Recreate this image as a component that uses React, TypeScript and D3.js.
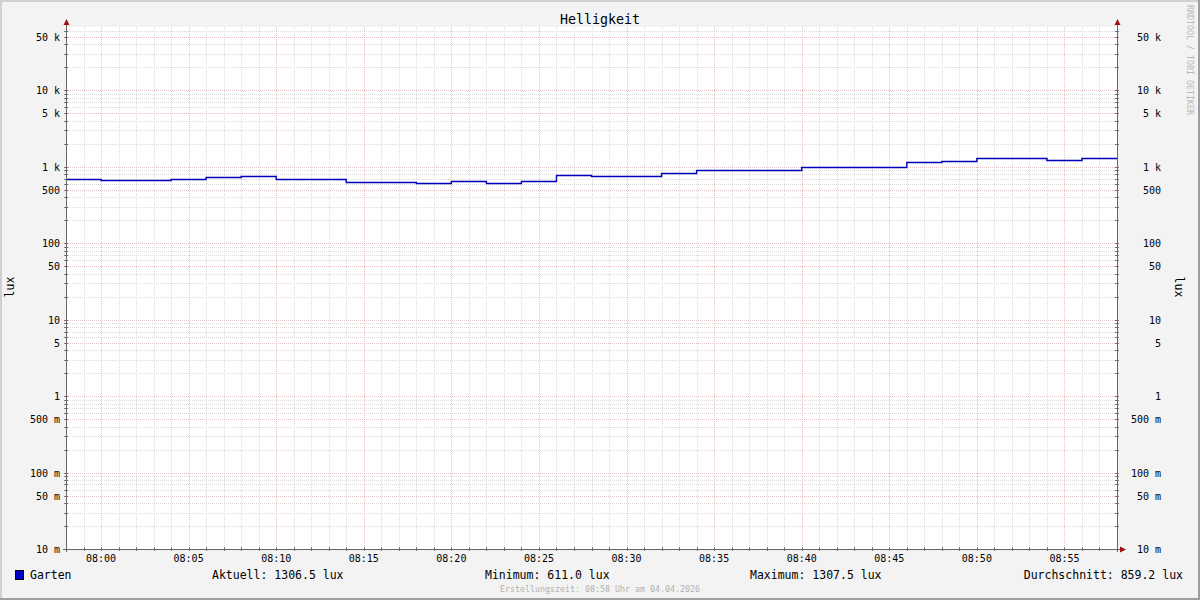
import React from "react";
import * as d3 from "d3";

const title = "Helligkeit";
const unitLabel = "lux";
const seriesName = "Garten";
const segmentStarts = [
  "07:58", "08:00", "08:02", "08:04", "08:06", "08:08", "08:10", "08:12", "08:14", "08:16",
  "08:18", "08:20", "08:22", "08:24", "08:26", "08:28", "08:30", "08:32", "08:34", "08:36",
  "08:38", "08:40", "08:42", "08:44", "08:46", "08:48", "08:50", "08:52", "08:54", "08:56",
];
const luxValues = [
  690, 670, 670, 690, 733, 756, 690, 690, 631, 631,
  611, 650, 612, 650, 786, 762, 762, 827, 905, 905,
  905, 990, 990, 990, 1152, 1209, 1307.5, 1307.5, 1224, 1306.5,
];
const endTime = "08:58";
const xTickLabels = ["08:00", "08:05", "08:10", "08:15", "08:20", "08:25", "08:30", "08:35", "08:40", "08:45", "08:50", "08:55"];
const yTickValues = [50000, 10000, 5000, 1000, 500, 100, 50, 10, 5, 1, 0.5, 0.1, 0.05, 0.01];
const yTickLabels = ["50 k", "10 k", "5 k", "1 k", "500", "100", "50", "10", "5", "1", "500 m", "100 m", "50 m", "10 m"];
const legendItems = [
  { text: "Aktuell: 1306.5 lux", x: 212, anchor: "start" },
  { text: "Minimum: 611.0 lux", x: 485, anchor: "start" },
  { text: "Maximum: 1307.5 lux", x: 750, anchor: "start" },
  { text: "Durchschnitt: 859.2 lux", x: 1183, anchor: "end" },
];
const footer = "Erstellungszeit: 08:58 Uhr am 04.04.2026";
const watermark = "RRDTOOL / TOBI OETIKER";

const W = 1200, H = 600;
const L = 66, R = 1117, T = 27, B = 549;
const FONT = "'DejaVu Sans Mono', monospace";

const toMin = (s: string) => {
  const [h, m] = s.split(":").map(Number);
  return h * 60 + m;
};

export default function App() {
  const x = d3.scaleLinear().domain([toMin("07:58"), toMin(endTime)]).range([L, R]);
  const y = d3.scaleLog().domain([0.01, 67600]).range([B, T]);

  const pts: [number, number][] = segmentStarts.map((s, i) => [toMin(s), luxValues[i]]);
  pts.push([toMin(endTime), luxValues[luxValues.length - 1]]);
  const line = d3.line<[number, number]>()
    .x((d) => x(d[0]))
    .y((d) => Math.round(y(d[1])) + 0.5)
    .curve(d3.curveStepAfter);

  const hMinor: number[] = [];
  const hMajor: number[] = [];
  for (let e = -2; e <= 4; e++) {
    for (let k = 1; k <= 9; k++) {
      const v = k * Math.pow(10, e);
      if (v > 67600) continue;
      if (k === 1 || k === 5) hMajor.push(v);
      else hMinor.push(v);
    }
  }
  const vMinor: number[] = [];
  const vMajor: number[] = [];
  for (let m = toMin("07:58"); m <= toMin(endTime); m++) {
    if (m % 5 === 0) vMajor.push(m);
    else vMinor.push(m);
  }
  const py = (v: number) => Math.round(y(v)) + 0.5;
  const px = (m: number) => Math.round(x(m)) + 0.5;

  return (
    <svg width={W} height={H} style={{ position: "absolute", left: 0, top: 0, display: "block" }} fontFamily={FONT}>
      <rect x={0} y={0} width={W} height={H} fill="#f3f3f3" />
      <rect x={0} y={0} width={W} height={2} fill="#d0d0d0" />
      <rect x={0} y={0} width={2} height={H} fill="#d0d0d0" />
      <rect x={0} y={H - 2} width={W} height={2} fill="#9e9e9e" />
      <rect x={W - 2} y={0} width={2} height={H} fill="#9e9e9e" />

      <rect x={L} y={T} width={R - L} height={B - T} fill="#ffffff" />

      <g stroke="#dcdcdc" strokeWidth={1} strokeDasharray="1,1">
        {hMinor.map((v) => (
          <line key={"hm" + v} x1={L} x2={R} y1={py(v)} y2={py(v)} />
        ))}
        {vMinor.map((m) => (
          <line key={"vm" + m} x1={px(m)} x2={px(m)} y1={T} y2={B} />
        ))}
      </g>
      <g stroke="#e6c0c0" strokeWidth={1} strokeDasharray="1,1">
        {hMajor.map((v) => (
          <line key={"hM" + v} x1={L} x2={R} y1={py(v)} y2={py(v)} />
        ))}
        {vMajor.map((m) => (
          <line key={"vM" + m} x1={px(m)} x2={px(m)} y1={T} y2={B} />
        ))}
      </g>
      <g stroke="#777" strokeWidth={1}>
        {[...hMinor, ...hMajor].map((v) => (
          <g key={"t" + v}>
            <line x1={L - 2} x2={L + 2} y1={py(v)} y2={py(v)} />
            <line x1={R - 2} x2={R + 2} y1={py(v)} y2={py(v)} />
          </g>
        ))}
        {[...vMinor, ...vMajor].map((m) => (
          <line key={"tx" + m} x1={px(m)} x2={px(m)} y1={B - 2} y2={B + 2} />
        ))}
      </g>

      <path d={line(pts) || ""} fill="none" stroke="#0000b8" strokeWidth={1.4} />

      <g stroke="#666" strokeWidth={1}>
        <line x1={L + 0.5} x2={L + 0.5} y1={22} y2={B + 3} />
        <line x1={R + 0.5} x2={R + 0.5} y1={22} y2={B + 3} />
        <line x1={L - 3} x2={R + 5} y1={B + 0.5} y2={B + 0.5} />
      </g>
      <g fill="#a01010">
        <path d={`M${L - 2.5},25 L${L + 3.5},25 L${L + 0.5},19 Z`} />
        <path d={`M${R - 2.5},25 L${R + 3.5},25 L${R + 0.5},19 Z`} />
        <path d={`M${R + 3},${B - 2.5} L${R + 3},${B + 3.5} L${R + 9},${B + 0.5} Z`} />
      </g>

      <text x={600} y={24} textAnchor="middle" fontSize={13.3} fill="#000">{title}</text>

      <g fontSize={10} fill="#000">
        {yTickValues.map((v, i) => (
          <g key={"yl" + v}>
            <text x={60} y={py(v) + 3.5} textAnchor="end">{yTickLabels[i]}</text>
            <text x={1161} y={py(v) + 3.5} textAnchor="end">{yTickLabels[i]}</text>
          </g>
        ))}
        {xTickLabels.map((s) => (
          <text key={"xl" + s} x={x(toMin(s))} y={562} textAnchor="middle">{s}</text>
        ))}
      </g>

      <text transform="translate(14,287) rotate(-90)" textAnchor="middle" fontSize={11.5} fill="#000">{unitLabel}</text>
      <text transform="translate(1175,287) rotate(90)" textAnchor="middle" fontSize={11.5} fill="#000">{unitLabel}</text>

      <text transform="translate(1187,5) rotate(90)" textAnchor="start" fontSize={8.3} fill="#b8b8b8">{watermark}</text>

      <rect x={15.5} y={570.5} width={8} height={9} fill="#0000c8" stroke="#000" strokeWidth={1} />
      <text x={30} y={579} fontSize={11.5} fill="#000">{seriesName}</text>
      {legendItems.map((it) => (
        <text key={it.text} x={it.x} y={579} fontSize={11.5} textAnchor={it.anchor as any} fill="#000">{it.text}</text>
      ))}
      <text x={600} y={592} textAnchor="middle" fontSize={8.3} fill="#b0b0b0">{footer}</text>
    </svg>
  );
}
